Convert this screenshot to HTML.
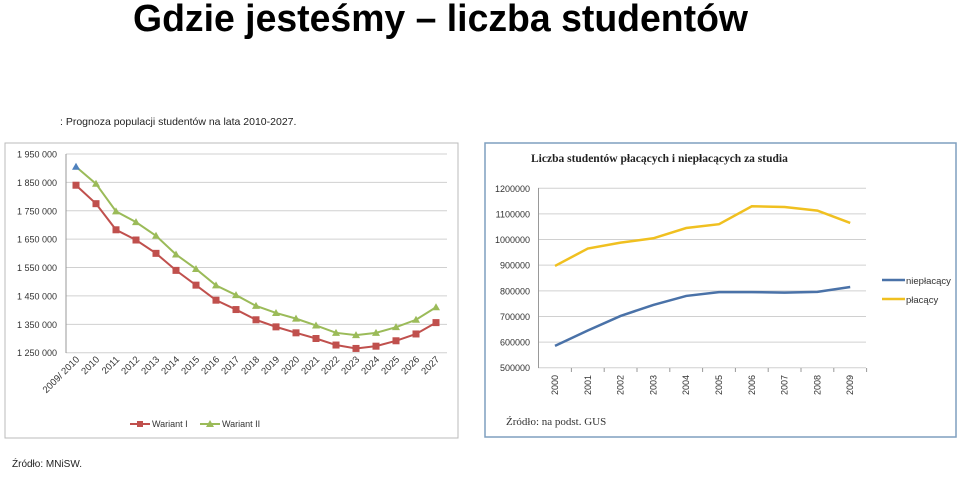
<!DOCTYPE html>
<html><head><meta charset="utf-8"><style>
html,body{margin:0;padding:0;background:#fff;}
svg{display:block;}
</style></head><body>
<svg id="s" width="960" height="479" xmlns="http://www.w3.org/2000/svg" font-family="Liberation Sans, sans-serif">
<text x="133" y="31" font-size="38" font-weight="bold" textLength="615" lengthAdjust="spacingAndGlyphs">Gdzie jesteśmy – liczba studentów</text>
<text x="60" y="125" font-size="10.5" fill="#222">: Prognoza populacji studentów na lata 2010-2027.</text>
<rect x="5" y="143" width="453" height="295" fill="#fff" stroke="#bbb"/>
<g id="left"></g>
<text x="12" y="467" font-size="10" fill="#222">Źródło: MNiSW.</text>
<rect x="485" y="143" width="471" height="294" fill="#fff" stroke="#7f9fbf" stroke-width="1.5"/>
<text x="531" y="162" font-size="11.5" font-weight="bold" font-family="Liberation Serif, serif" fill="#222">Liczba studentów płacących i niepłacących za studia</text>
<g id="right"></g>
<text x="506" y="425" font-size="11" font-family="Liberation Serif, serif" fill="#333">Źródło: na podst. GUS</text>
</svg>
<script>
const leftCats=["2009/ 2010","2010","2011","2012","2013","2014","2015","2016","2017","2018","2019","2020","2021","2022","2023","2024","2025","2026","2027"];
const wariantI=[1840,1775,1683,1647,1600,1540,1488,1435,1402,1366,1341,1320,1300,1277,1265,1273,1292,1316,1356];
const wariantII=[1905,1845,1748,1710,1662,1596,1545,1487,1453,1415,1390,1370,1346,1320,1312,1320,1340,1366,1410];
const leftTicks=[1250,1350,1450,1550,1650,1750,1850,1950];
const rightCats=["2000","2001","2002","2003","2004","2005","2006","2007","2008","2009"];
const nieplacacy=[585,645,702,745,780,795,795,793,796,815];
const placacy=[897,965,988,1005,1045,1060,1130,1127,1113,1065];
const rightTicks=[500000,600000,700000,800000,900000,1000000,1100000,1200000];

const NS="http://www.w3.org/2000/svg";
function mk(p,t,a,txt){const e=document.createElementNS(NS,t);for(const k in a)e.setAttribute(k,a[k]);if(txt!=null)e.textContent=txt;p.appendChild(e);return e;}
function fmtL(t){const s=String(t);return s[0]+' '+s.slice(1)+' 000';}
// left
const L=document.getElementById('left');
const ly=v=>352.7-(v-1250)*(352.7-154)/700;
const lx=i=>76+i*20;
leftTicks.forEach(t=>{
 const g=mk(L,'line',{x1:66,x2:447,y1:ly(t),y2:ly(t),stroke:'#d0d0d0'});
 
 const tx=mk(L,'text',{x:57,y:ly(t)+3.5,'font-size':9,'text-anchor':'end',fill:'#333'},fmtL(t));
 
});
mk(L,'line',{x1:66,x2:66,y1:154,y2:353,stroke:'#999'});
leftCats.forEach((c,i)=>{
 const t=mk(L,'text',{x:lx(i)+4,y:360,'font-size':9.5,'text-anchor':'end',fill:'#333',transform:`rotate(-45 ${lx(i)+4} 360)`},c);
 
});
function series(P,vals,xf,yf,col,w,name){const p=mk(P,'polyline',{points:vals.map((v,i)=>xf(i)+','+yf(v)).join(' '),fill:'none',stroke:col,'stroke-width':w});}
series(L,wariantII,lx,ly,'#9bbb59',2,'wariant-ii-line');
series(L,wariantI,lx,ly,'#c0504d',2,'wariant-i-line');
wariantI.forEach((v,i)=>{const m=mk(L,'rect',{x:lx(i)-3.5,y:ly(v)-3.5,width:7,height:7,fill:'#c0504d'});});
wariantII.forEach((v,i)=>{const x=lx(i),y=ly(v);const m=mk(L,'polygon',{points:`${x},${y-4} ${x-4},${y+3} ${x+4},${y+3}`,fill:i==0?'#4f81bd':'#9bbb59'});});
// left legend
mk(L,'line',{x1:130,x2:150,y1:424,y2:424,stroke:'#c0504d','stroke-width':2});
mk(L,'rect',{x:137,y:421,width:6,height:6,fill:'#c0504d'});
mk(L,'text',{x:152,y:427,'font-size':9,fill:'#333'},'Wariant I');
mk(L,'line',{x1:200,x2:220,y1:424,y2:424,stroke:'#9bbb59','stroke-width':2});
mk(L,'polygon',{points:'210,420 206,427 214,427',fill:'#9bbb59'});
mk(L,'text',{x:222,y:427,'font-size':9,fill:'#333'},'Wariant II');
// right
const R=document.getElementById('right');
const ry=v=>367.7-(v-500000)*(367.7-188.3)/700000;
const rx=i=>555+i*32.8;
rightTicks.forEach(t=>{
 const g=mk(R,'line',{x1:538,x2:866,y1:ry(t),y2:ry(t),stroke:'#d0d0d0'});
 
 const tx=mk(R,'text',{x:530,y:ry(t)+3.5,'font-size':9,'text-anchor':'end',fill:'#333'},String(t));
 
});
mk(R,'line',{x1:538.5,x2:538.5,y1:188,y2:368,stroke:'#999'});
rightCats.forEach((c,i)=>{
 mk(R,'line',{x1:rx(i)+16.4,x2:rx(i)+16.4,y1:368,y2:372,stroke:'#999'});
 const t=mk(R,'text',{x:rx(i)+3,y:375,'font-size':9,'text-anchor':'end',fill:'#333',transform:`rotate(-90 ${rx(i)+3} 375)`},c);
 
});
series(R,placacy.map(v=>v*1000),rx,ry,'#f0c020',2.5,'placacy-line');
series(R,nieplacacy.map(v=>v*1000),rx,ry,'#4a72a8',2.5,'nieplacacy-line');
mk(R,'line',{x1:882,x2:905,y1:280,y2:280,stroke:'#4a72a8','stroke-width':2.5});
mk(R,'text',{x:906,y:284,'font-size':9.5,fill:'#333'},'niepłacący');
mk(R,'line',{x1:882,x2:905,y1:299,y2:299,stroke:'#f0c020','stroke-width':2.5});
mk(R,'text',{x:906,y:303,'font-size':9.5,fill:'#333'},'płacący');
</script>
</body></html>
